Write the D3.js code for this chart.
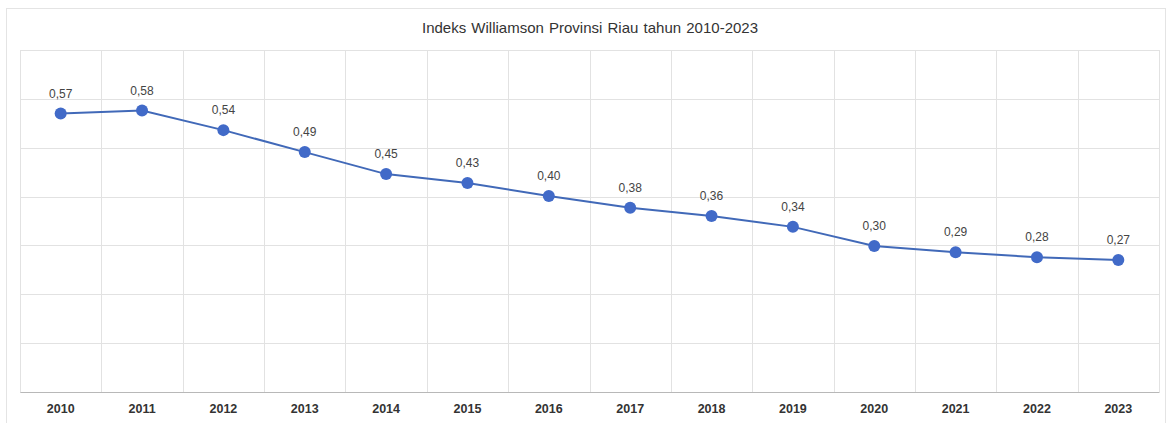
<html>
<head>
<script src="https://d3js.org/d3.v7.min.js"></script>
<style>
  body { margin: 0; background: #fff; }
  text { font-family: "Liberation Sans", Arial, sans-serif; }
</style>
</head>
<body>
<script>
// data
const years = ["2010","2011","2012","2013","2014","2015","2016","2017","2018","2019","2020","2021","2022","2023"];
const values = [0.570, 0.576, 0.536, 0.491, 0.446, 0.428, 0.401, 0.377, 0.360, 0.338, 0.299, 0.286, 0.276, 0.270];
const yTicks = [0, 0.1, 0.2, 0.3, 0.4, 0.5, 0.6, 0.7];
const title = "Indeks Williamson Provinsi Riau tahun 2010-2023";

let svg = d3.select("body").append("svg").attr("width", 1169).attr("height", 423);
let margin = {"top": 50, "right": 10, "bottom": 31, "left": 20};
let chartWidth = 1169 - margin.left - margin.right;
let chartHeight = 423 - margin.top - margin.bottom;

// outer frame
svg.append("rect").attr("x", 6.5).attr("y", 8.5).attr("width", 1159).attr("height", 430)
    .attr("fill", "none").attr("stroke", "#e4e4e4");

svg.append("text").attr("x", 590).attr("y", 33).attr("text-anchor", "middle")
    .attr("font-size", 15).attr("fill", "#333").attr("word-spacing", 1).text(title);

let chartArea = svg.append("g").attr("transform", "translate(" + margin.left + "," + margin.top + ")");

let xScale = d3.scaleBand().domain(years).range([0, chartWidth]);
let yScale = d3.scaleLinear().domain([0, 0.7]).range([chartHeight, 0]);

// horizontal grid
chartArea.selectAll(".hgrid").data(yTicks).enter().append("line")
    .attr("x1", 0).attr("x2", chartWidth)
    .attr("y1", d => Math.round(yScale(d)) + 0.5).attr("y2", d => Math.round(yScale(d)) + 0.5)
    .attr("stroke", "#e2e2e2");

// vertical grid at band boundaries
let bounds = years.map(d => xScale(d)).concat([chartWidth]);
chartArea.selectAll(".vgrid").data(bounds).enter().append("line")
    .attr("x1", d => Math.round(d) + 0.5).attr("x2", d => Math.round(d) + 0.5)
    .attr("y1", 0).attr("y2", chartHeight)
    .attr("stroke", "#e2e2e2");

// bottom axis
let bottomAxis = d3.axisBottom(xScale).tickSize(0).tickPadding(12);
let ax = chartArea.append("g").attr("transform", "translate(0," + chartHeight + ")").call(bottomAxis);
ax.select(".domain").attr("stroke", "#b8b8b8");
ax.selectAll("text").attr("font-size", 12.5).attr("font-weight", "bold").attr("fill", "#333")
    .attr("font-family", "Liberation Sans, Arial, sans-serif");

let cx = (d, i) => xScale(years[i]) + xScale.bandwidth() / 2;

let lineGen = d3.line().x(cx).y(d => yScale(d));
chartArea.append("path").datum(values)
    .attr("fill", "none").attr("stroke", "#4169b8").attr("stroke-width", 2)
    .attr("d", lineGen);

chartArea.selectAll(".dot").data(values).enter().append("circle")
    .attr("cx", cx).attr("cy", d => yScale(d)).attr("r", 6)
    .attr("fill", "#416ac8");

chartArea.selectAll(".lbl").data(values).enter().append("text")
    .attr("x", cx).attr("y", d => yScale(d) - 16)
    .attr("text-anchor", "middle").attr("font-size", 12).attr("fill", "#444")
    .text(d => d.toFixed(2).replace(".", ","));
</script>
</body>
</html>
